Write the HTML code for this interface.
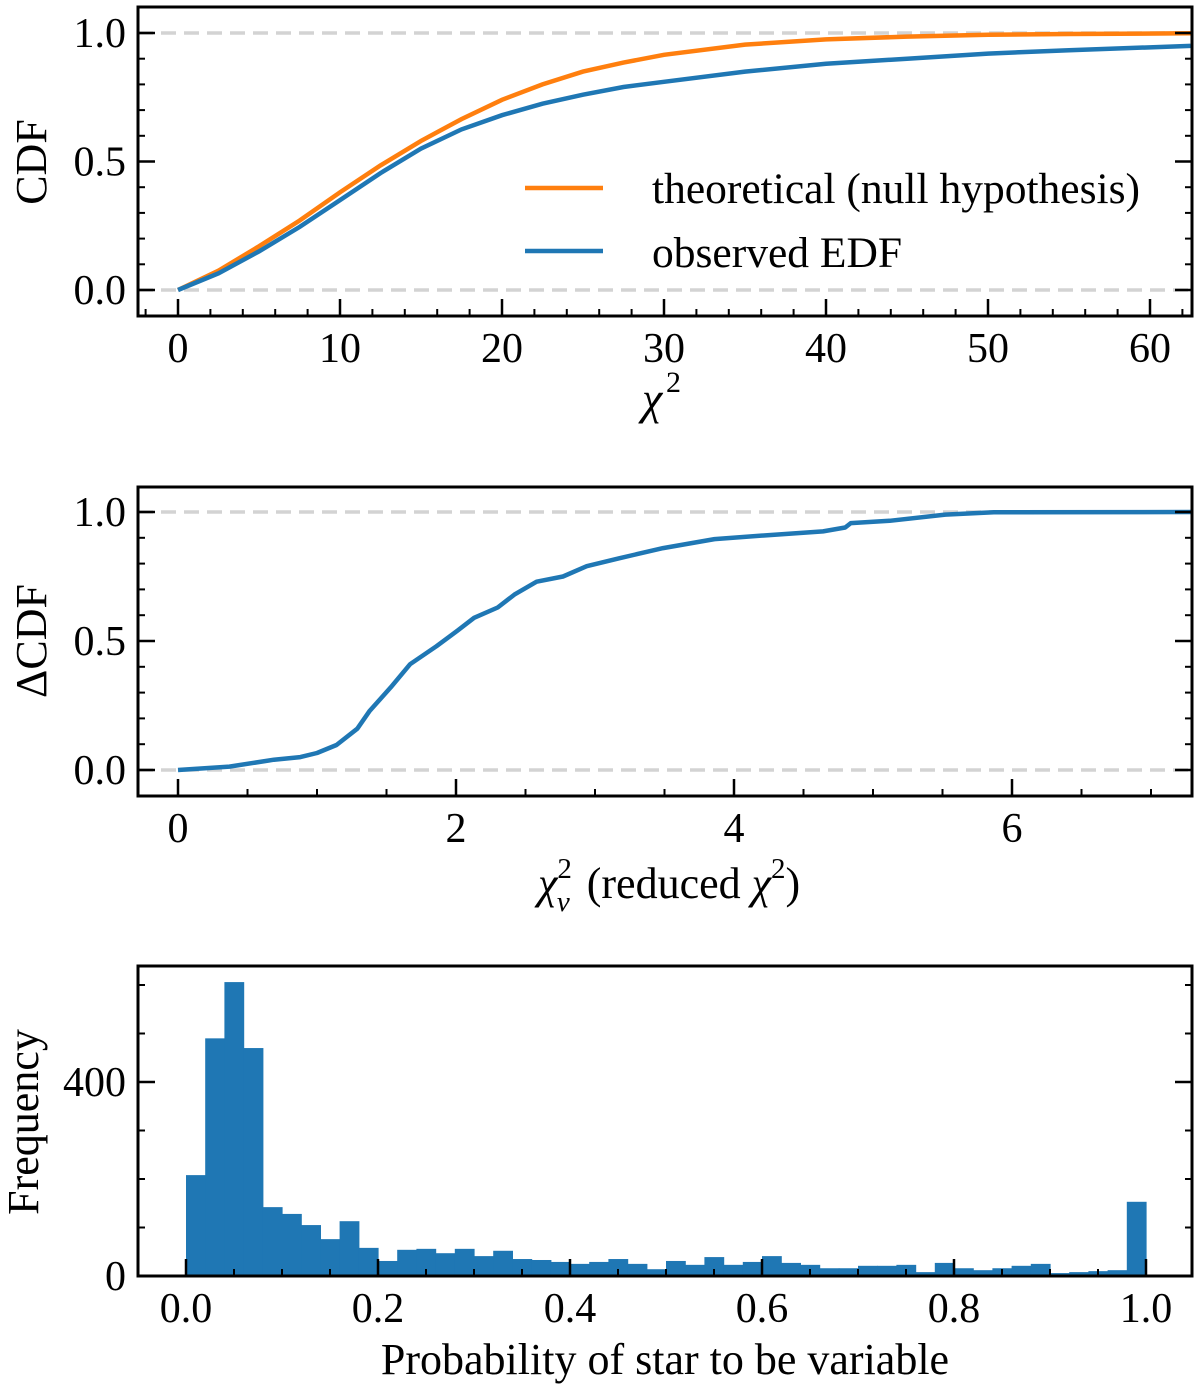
<!DOCTYPE html>
<html><head><meta charset="utf-8"><style>
html,body{margin:0;padding:0;background:#fff;}
svg{display:block;font-family:"Liberation Serif","DejaVu Serif",serif;}
</style></head><body>
<svg id="fig" width="1200" height="1390" viewBox="0 0 1200 1390"></svg>
<script>
// ---- Panel 1 data: CDFs ----
const p1ChiX = [0,2.5,5,7.5,10,12.5,15,17.5,20,22.5,25,27.5,30,35,40,45,50,55,62.5];
const p1Theory = [0,0.075,0.17,0.27,0.38,0.485,0.58,0.665,0.74,0.8,0.85,0.885,0.915,0.955,0.975,0.986,0.993,0.996,0.999];
const p1Observed = [0,0.065,0.15,0.245,0.35,0.455,0.55,0.625,0.68,0.725,0.76,0.79,0.81,0.85,0.88,0.9,0.92,0.933,0.95];
const p1XTicks = [0,10,20,30,40,50,60];
const p1YTicks = [0,0.5,1.0];
// ---- Panel 2 data: delta CDF ----
const p2X = [0,0.37,0.69,0.88,1.0,1.14,1.29,1.38,1.53,1.67,1.86,2.01,2.13,2.3,2.42,2.58,2.77,2.94,3.17,3.49,3.7,3.86,4.24,4.64,4.8,4.84,5.12,5.52,5.87,7.3];
const p2Y = [0,0.013,0.04,0.05,0.066,0.097,0.16,0.23,0.32,0.41,0.48,0.54,0.59,0.63,0.68,0.73,0.75,0.79,0.82,0.86,0.88,0.895,0.91,0.925,0.94,0.957,0.966,0.99,0.999,1.0];
const p2XTicks = [0,2,4,6];
const p2YTicks = [0,0.5,1.0];
// ---- Panel 3 data: histogram (50 bins of width 0.02) ----
const p3Counts = [208,490,606,470,142,128,105,76,113,58,31,54,56,47,56,41,52,35,33,29,25,29,35,25,14,31,23,39,23,29,41,27,23,16,16,21,21,23,8,27,16,12,16,21,25,6,8,10,12,153];
const p3BinWidth = 0.02;
const p3XTicks = [0,0.2,0.4,0.6,0.8,1.0];
const p3YTicks = [0,400];

const NS = "http://www.w3.org/2000/svg";
const svg = document.getElementById('fig');
function el(tag, attrs, parent, text){
  const e = document.createElementNS(NS, tag);
  for (const k in attrs) e.setAttribute(k, attrs[k]);
  if (text !== undefined) e.textContent = text;
  (parent || svg).appendChild(e);
  return e;
}
function lin(d0,d1,r0,r1){return v => r0 + (v-d0)/(d1-d0)*(r1-r0);}
const TF = 42;

function axesFrame(g, L, T, R, B, sx, sy, xMaj, xMinStep, xMin, xMax, yMaj, yMinStep, yMin, yMax, xfmt, yfmt){
  for (let v = Math.ceil(xMin/xMinStep)*xMinStep; v <= xMax+1e-9; v += xMinStep) {
    const x = sx(v);
    const t = el('line',{x1:x,y1:B,x2:x,y2:B-7,stroke:'#000','stroke-width':2},g);
    
    
  }
  for (let v = Math.ceil(yMin/yMinStep)*yMinStep; v <= yMax+1e-9; v += yMinStep) {
    const y = sy(v);
    el('line',{x1:L,y1:y,x2:L+7,y2:y,stroke:'#000','stroke-width':2},g);
    el('line',{x1:R,y1:y,x2:R-7,y2:y,stroke:'#000','stroke-width':2},g);
  }
  xMaj.forEach(v=>{
    const x = sx(v);
    el('line',{x1:x,y1:B,x2:x,y2:B-17,stroke:'#000','stroke-width':2.5},g);
    const t = el('text',{x:x,y:B+46,'font-size':TF,'text-anchor':'middle'},g,xfmt(v));
    
    
  });
  yMaj.forEach(v=>{
    const y = sy(v);
    el('line',{x1:L,y1:y,x2:L+17,y2:y,stroke:'#000','stroke-width':2.5},g);
    el('line',{x1:R,y1:y,x2:R-17,y2:y,stroke:'#000','stroke-width':2.5},g);
    const t = el('text',{x:L-12,y:y+14,'font-size':TF,'text-anchor':'end'},g,yfmt(v));
    
    
  });
  const f = el('rect',{x:L,y:T,width:R-L,height:B-T,fill:'none',stroke:'#000','stroke-width':3},g);
  
  
}
function dashed(g, L, R, y){
  el('line',{x1:L,y1:y,x2:R,y2:y,stroke:'#d3d3d3','stroke-width':3.5,'stroke-dasharray':'15 8'},g);
}
function pathFrom(xs, ys, sx, sy){
  return xs.map((v,i)=>(i?'L':'M')+sx(v).toFixed(1)+','+sy(ys[i]).toFixed(1)).join(' ');
}

// ===== Panel 1 =====
{
  const L=138,T=7,R=1192,B=316;
  const sx = lin(0,60,178,1150), sy = lin(0,1,290,33);
  const g = el('g',{});  
  dashed(g,L,R,sy(1)); dashed(g,L,R,sy(0));
  const po = el('path',{d:pathFrom(p1ChiX,p1Theory,sx,sy),fill:'none',stroke:'#ff7f0e','stroke-width':4.5},g);
   
  const pb = el('path',{d:pathFrom(p1ChiX,p1Observed,sx,sy),fill:'none',stroke:'#1f77b4','stroke-width':4.5},g);
   
  axesFrame(g,L,T,R,B,sx,sy,p1XTicks,2,-2.5,62.5,p1YTicks,0.1,0,1,v=>String(v),v=>v.toFixed(1));
  const lg = el('g',{},g);  
  el('line',{x1:525,y1:188,x2:603,y2:188,stroke:'#ff7f0e','stroke-width':4.5},lg);
  const t1 = el('text',{x:652,y:203,'font-size':43.5},lg,'theoretical (null hypothesis)');
   
  el('line',{x1:525,y1:251,x2:603,y2:251,stroke:'#1f77b4','stroke-width':4.5},lg);
  const t2 = el('text',{x:652,y:267,'font-size':43.5},lg,'observed EDF');
   
  const xl = el('text',{x:642,y:414,'font-size':46,'font-style':'italic'},g,'χ');
   
  el('text',{x:666,y:392,'font-size':30},g,'2');
  const yl = el('text',{x:0,y:0,'font-size':44,'text-anchor':'middle',transform:'translate(46,162) rotate(-90)'},g,'CDF');
   
}

// ===== Panel 2 =====
{
  const L=138,T=487,R=1192,B=796;
  const sx = lin(0,2,178,456), sy = lin(0,1,770,512);
  const g = el('g',{});  
  dashed(g,L,R,sy(1)); dashed(g,L,R,sy(0));
  const pb = el('path',{d:pathFrom(p2X,p2Y,sx,sy),fill:'none',stroke:'#1f77b4','stroke-width':4.5,'stroke-linejoin':'round'},g);
   
  axesFrame(g,L,T,R,B,sx,sy,p2XTicks,0.5,0,7.3,p2YTicks,0.1,0,1,v=>String(v),v=>v.toFixed(1));
  const xl = el('text',{x:538,y:898,'font-size':44},g);
   
  xl.innerHTML = '<tspan font-style="italic">χ</tspan><tspan font-size="29" dy="-20">2</tspan><tspan font-size="29" font-style="italic" dx="-15" dy="33">ν</tspan><tspan dy="-13" dx="6"> (reduced </tspan><tspan font-style="italic">χ</tspan><tspan font-size="29" dy="-20">2</tspan><tspan dy="20">)</tspan>';
  const yl = el('text',{x:0,y:0,'font-size':44,'text-anchor':'middle',transform:'translate(46,641) rotate(-90)'},g,'ΔCDF');
   
}

// ===== Panel 3 =====
{
  const L=138,T=966,R=1192,B=1276;
  const sx = lin(0,1,186,1146), sy = lin(0,400,1276,1082);
  const g = el('g',{});  
  p3Counts.forEach((c,i)=>{
    const x0 = sx(i*p3BinWidth), x1 = sx((i+1)*p3BinWidth);
    const r = el('rect',{x:x0,y:sy(c),width:x1-x0+0.6,height:sy(0)-sy(c),fill:'#1f77b4'},g);
    
    
  });
  axesFrame(g,L,T,R,B,sx,sy,p3XTicks,0.05,0,1.04,p3YTicks,100,0,630,v=>v.toFixed(1),v=>String(v));
  const xl = el('text',{x:665,y:1374,'font-size':44,'text-anchor':'middle'},g,'Probability of star to be variable');
   
  const yl = el('text',{x:0,y:0,'font-size':44,'text-anchor':'middle',transform:'translate(38,1122) rotate(-90)'},g,'Frequency');
   
}
</script>
</body></html>
